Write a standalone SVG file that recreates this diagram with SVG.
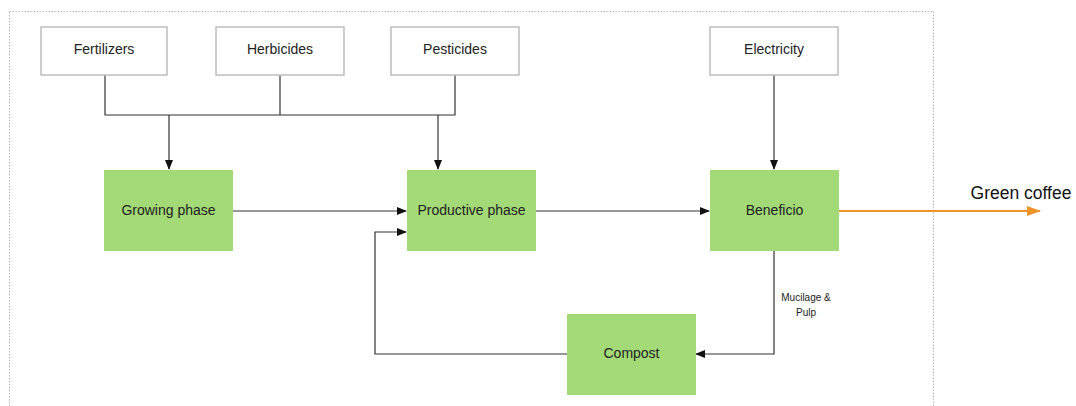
<svg xmlns="http://www.w3.org/2000/svg" width="1076" height="406" viewBox="0 0 1076 406">
<defs>
<style>
.frame{fill:none;stroke:#b8b8b8;stroke-width:1;stroke-dasharray:1.5,1.5}
.inbox{fill:#ffffff;stroke:#bdbdbd;stroke-width:1.5}
.proc{fill:#a3d977;stroke:#a3d977}
.lbl{font-family:"Liberation Sans",Arial,sans-serif;font-size:14px;fill:#222;text-anchor:middle;dominant-baseline:central}
.small{font-family:"Liberation Sans",Arial,sans-serif;font-size:10px;fill:#222;text-anchor:middle}
.con{fill:none;stroke:#333;stroke-width:1.2}
.out{fill:none;stroke:#f0932b;stroke-width:1.8}
</style>
<marker id="ah" markerWidth="10" markerHeight="10" refX="9" refY="5" orient="auto" markerUnits="userSpaceOnUse">
<path d="M0,1 L10,5 L0,9 Z" fill="#111"/>
</marker>
<marker id="aho" markerWidth="14" markerHeight="12" refX="13" refY="6" orient="auto" markerUnits="userSpaceOnUse">
<path d="M0,1 L14,6 L0,11 Z" fill="#f0932b"/>
</marker>
</defs>
<rect class="frame" x="9.5" y="11.5" width="924" height="400"/>
<g id="connectors">
<path class="con" d="M105,75 V115 H455 V75"/>
<path class="con" d="M280,75 V115"/>
<path class="con" d="M169,115 V169" marker-end="url(#ah)"/>
<path class="con" d="M438,115 V169" marker-end="url(#ah)"/>
<path class="con" d="M774,75 V169" marker-end="url(#ah)"/>
<path class="con" d="M233,211 H406" marker-end="url(#ah)"/>
<path class="con" d="M535,211 H709" marker-end="url(#ah)"/>
<path class="con" d="M567,354 H375 V232 H406" marker-end="url(#ah)"/>
<path class="con" d="M774,251 V354 H696" marker-end="url(#ah)"/>
<path class="out" d="M838,211 H1040" marker-end="url(#aho)"/>
<text class="small" x="806" y="301">Mucilage &amp;</text>
<text class="small" x="806" y="316">Pulp</text>
<text x="1021" y="199" style="font-family:'Liberation Sans',Arial,sans-serif;font-size:17.5px;fill:#111;text-anchor:middle">Green coffee</text>
</g>
<g id="fertilizers"><rect class="inbox" x="41" y="27" width="126" height="48"/><text class="lbl" x="104" y="49">Fertilizers</text></g>
<g id="herbicides"><rect class="inbox" x="216" y="27" width="128" height="48"/><text class="lbl" x="280" y="49">Herbicides</text></g>
<g id="pesticides"><rect class="inbox" x="391" y="27" width="128" height="48"/><text class="lbl" x="455" y="49">Pesticides</text></g>
<g id="electricity"><rect class="inbox" x="710" y="27" width="128" height="48"/><text class="lbl" x="774" y="49">Electricity</text></g>
<g id="growing"><rect class="proc" x="104.5" y="170.5" width="128" height="80"/><text class="lbl" x="168.5" y="209.5">Growing phase</text></g>
<g id="productive"><rect class="proc" x="407.5" y="170.5" width="128" height="80"/><text class="lbl" x="471.5" y="209.5">Productive phase</text></g>
<g id="beneficio"><rect class="proc" x="710.5" y="170.5" width="128" height="80"/><text class="lbl" x="774.5" y="209.5">Beneficio</text></g>
<g id="compost"><rect class="proc" x="567.5" y="314.5" width="128" height="80"/><text class="lbl" x="631.5" y="352.5">Compost</text></g>
</svg>
